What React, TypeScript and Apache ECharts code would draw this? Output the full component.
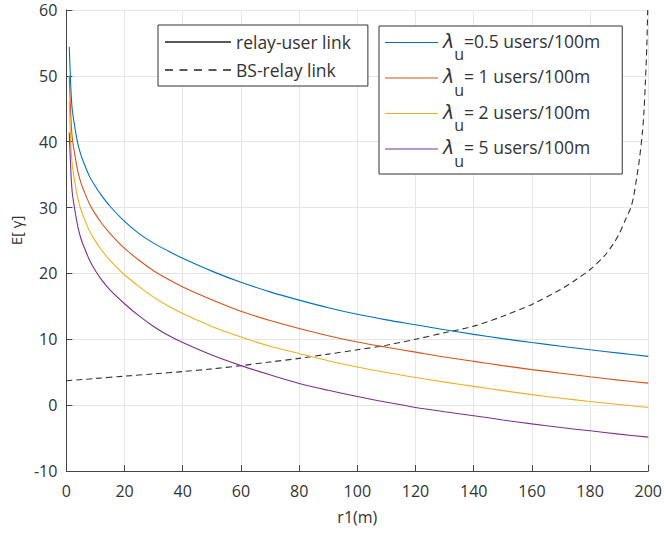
import React, { useEffect, useRef } from "react";
import * as echarts from "echarts";

const xRelay = [1, 1.5, 2, 3, 4, 5, 6, 8, 10, 12, 15, 20, 25, 30, 35, 40, 50, 60, 70, 80, 90, 100, 110, 120, 130, 140, 150, 160, 170, 180, 190, 200];
const yLam05 = [54.4, 48.6, 45.0, 42.0, 39.6, 38.0, 36.8, 34.7, 33.2, 31.9, 30.2, 27.9, 26.05, 24.6, 23.4, 22.3, 20.35, 18.65, 17.2, 15.95, 14.8, 13.8, 12.95, 12.2, 11.45, 10.75, 10.1, 9.5, 8.95, 8.4, 7.9, 7.4];
const yLam1 = [50.0, 44.3, 40.7, 37.8, 35.4, 33.8, 32.6, 30.5, 29.0, 27.7, 26.1, 23.8, 22.0, 20.4, 19.1, 17.95, 16.0, 14.25, 12.85, 11.65, 10.55, 9.6, 8.8, 8.05, 7.3, 6.65, 6.0, 5.4, 4.85, 4.3, 3.8, 3.35];
const yLam2 = [46.1, 40.0, 36.6, 33.6, 31.3, 29.7, 28.5, 26.4, 24.9, 23.6, 22.0, 19.8, 18.0, 16.4, 15.05, 13.9, 11.95, 10.35, 8.95, 7.85, 6.75, 5.8, 4.95, 4.2, 3.5, 2.85, 2.2, 1.6, 1.05, 0.55, 0.1, -0.35];
const yLam5 = [41.4, 36.0, 32.4, 29.4, 27.0, 25.3, 24.1, 22.0, 20.4, 19.1, 17.5, 15.4, 13.55, 11.95, 10.6, 9.5, 7.6, 6.0, 4.6, 3.3, 2.25, 1.3, 0.45, -0.35, -1.0, -1.6, -2.25, -2.85, -3.4, -3.9, -4.4, -4.85];

const xBS = [0, 10, 20, 30, 40, 50, 60, 70, 80, 90, 100, 110, 120, 130, 140, 150, 160, 170, 175, 180, 185, 188, 190, 192, 194, 195, 196, 197, 198, 198.5, 199, 199.5, 199.8];
const yBS = [3.7, 4.05, 4.4, 4.75, 5.1, 5.5, 6.0, 6.55, 7.1, 7.75, 8.4, 9.1, 10.0, 11.0, 12.0, 13.5, 15.3, 17.6, 19.0, 20.6, 22.7, 24.5, 26.0, 28.0, 30.0, 31.8, 34.5, 37.5, 41.5, 44.5, 49.0, 54.5, 60.0];

const xTicks = [0, 20, 40, 60, 80, 100, 120, 140, 160, 180, 200];
const yTicks = [-10, 0, 10, 20, 30, 40, 50, 60];

const lamNames = ["0.5", "1", "2", "5"];
const lamLabels = ["=0.5 users/100m", "= 1 users/100m", "= 2 users/100m", "= 5 users/100m"];
const lamColors = ["#0072BD", "#D95319", "#EDB120", "#7E2F8E"];
const lamData = [yLam05, yLam1, yLam2, yLam5];

const FONT = "Open Sans";
const TXT = "#333333";
const DASH_ICON = "path://M0,0h8v1h-8z M14.5,0h8v1h-8z M29,0h8v1h-8z M43.5,0h8v1h-8z M58,0h8v1h-8z";

export default function App() {
  const ref = useRef<HTMLDivElement>(null);
  useEffect(() => {
    document.body.style.margin = "0";
    const chart = echarts.init(ref.current!, null, { renderer: "svg" });
    const pair = (xs: number[], ys: number[]) => xs.map((x, i) => [x, ys[i]]);
    const lamSeries = lamNames.map((n, i) => ({
      name: "lam" + n,
      type: "line",
      data: pair(xRelay, lamData[i]),
      symbol: "none",
      smooth: 0.3,
      lineStyle: { color: lamColors[i], width: 1.1 },
      itemStyle: { color: lamColors[i] },
    }));
    chart.setOption({
      animation: false,
      backgroundColor: "#ffffff",
      textStyle: { fontFamily: FONT },
      grid: { left: 64, top: 10, width: 586, height: 461, containLabel: false },
      xAxis: {
        type: "value",
        min: xTicks[0],
        max: xTicks[xTicks.length - 1],
        interval: 20,
        name: "r1(m)",
        nameLocation: "middle",
        nameGap: 38,
        nameTextStyle: { fontSize: 16, color: TXT, fontFamily: FONT },
        axisLine: { show: true, onZero: false, lineStyle: { color: "#444", width: 1 } },
        axisTick: { show: true, inside: true, length: 6, lineStyle: { color: "#444" } },
        axisLabel: { fontSize: 16, color: TXT, margin: 12, fontFamily: FONT },
        splitLine: { show: true, lineStyle: { color: "#e6e6e6", width: 1 } },
      },
      yAxis: {
        type: "value",
        min: yTicks[0],
        max: yTicks[yTicks.length - 1],
        interval: 10,
        name: "E[ γ]",
        nameLocation: "middle",
        nameGap: 42,
        nameRotate: 90,
        nameTextStyle: { fontSize: 15, color: TXT, fontFamily: FONT, padding: [0, 0, 0, 20] },
        axisLine: { show: true, onZero: false, lineStyle: { color: "#444", width: 1 } },
        axisTick: { show: true, inside: true, length: 6, lineStyle: { color: "#444" } },
        axisLabel: { fontSize: 16, color: TXT, margin: 9, fontFamily: FONT },
        splitLine: { show: true, lineStyle: { color: "#e6e6e6", width: 1 } },
      },
      legend: [
        {
          data: [
            { name: "relay-user link", icon: "rect" },
            { name: "BS-relay link", icon: DASH_ICON },
          ],
          orient: "vertical",
          left: 158,
          top: 25,
          itemWidth: 66,
          itemHeight: 1.4,
          itemGap: 6,
          symbolKeepAspect: false,
          padding: [6, 17, 5, 7],
          borderColor: "#333",
          borderWidth: 1,
          backgroundColor: "#fff",
          textStyle: { fontSize: 17.5, lineHeight: 22, color: TXT, fontFamily: FONT },
        },
        {
          data: lamNames.map((n) => ({ name: "lam" + n, icon: "rect" })),
          orient: "vertical",
          left: 379,
          top: 26,
          itemWidth: 53,
          itemHeight: 1.2,
          itemGap: 4,
          symbolKeepAspect: false,
          padding: [5, 22, 5, 6],
          borderColor: "#333",
          borderWidth: 1,
          backgroundColor: "#fff",
          formatter: (name: string) => {
            const i = lamNames.indexOf(name.slice(3));
            return "{l|λ}{s|u}{t|" + lamLabels[i] + "}";
          },
          textStyle: {
            fontSize: 17.5,
            color: TXT,
            fontFamily: FONT,
            rich: {
              l: { fontSize: 19, fontStyle: "italic", fontFamily: "DejaVu Sans", color: TXT, verticalAlign: "middle", padding: [0, 0, 4, 0] },
              s: { fontSize: 16, fontFamily: FONT, color: TXT, verticalAlign: "middle", padding: [24, 0, 0, 0] },
              t: { fontSize: 17.5, fontFamily: FONT, color: TXT, verticalAlign: "middle", padding: [0, 0, 4, 0] },
            },
          },
        },
      ],
      series: [
        {
          name: "relay-user link",
          type: "line",
          data: [],
          symbol: "none",
          lineStyle: { color: "#222", width: 1.5 },
          itemStyle: { color: "#222" },
        },
        {
          name: "BS-relay link",
          type: "line",
          data: pair(xBS, yBS),
          symbol: "none",
          smooth: 0.3,
          lineStyle: { color: "#333", width: 1.1, type: [6, 4] },
          itemStyle: { color: "#222" },
        },
        ...lamSeries,
      ],
    });
    return () => chart.dispose();
  }, []);
  return <div ref={ref} style={{ width: 665, height: 533 }} />;
}
